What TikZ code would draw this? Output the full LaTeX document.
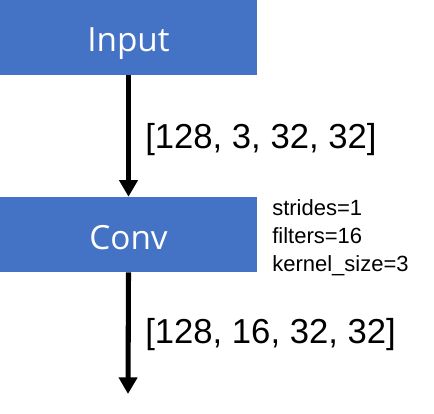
\documentclass[tikz,border=0pt]{standalone}
\usepackage{fontspec}
\setmainfont{Liberation Sans}
\newfontfamily\boxfont{Open Sans}
\usetikzlibrary{arrows.meta}
\definecolor{boxblue}{HTML}{4472C4}
\tikzset{
  layerbox/.style={fill=boxblue, draw=none, minimum width=257*0.75pt, minimum height=75*0.75pt, inner sep=0pt},
  boxtext/.style={text=white, inner sep=0pt, anchor=base, font=\boxfont\fontsize{25}{30}\selectfont},
  flow/.style={line width=3.8pt, -{Triangle[width=13.5pt,length=12.5pt]}},
  shapelabel/.style={anchor=west, inner sep=0pt, font=\fontsize{26}{30}\selectfont},
  paramlabel/.style={anchor=base west, inner sep=0pt, align=left, font=\fontsize{16.5}{21}\selectfont}
}
\begin{document}
\begin{tikzpicture}[x=0.75pt,y=-0.75pt]
\useasboundingbox (0,0) rectangle (434,413);
\node[layerbox] (input) at (128.5,37.5) {};
\node[layerbox] (conv) at (128.5,234.5) {};
\node[boxtext] (inputtext) at (128.5,52) {Input};
\node[boxtext] (convtext) at (128.5,249) {Conv};
\coordinate (out) at (128,394);
\draw[flow] (input.south) -- (conv.north);
\draw[flow] (conv.south) -- (out);
\node[shapelabel] (l1) at (145,140) {[128, 3, 32, 32]};
\node[shapelabel] (l2) at (145,335) {[128, 16, 32, 32]};
\node[paramlabel] (p) at (272,271) {strides=1\\filters=16\\kernel\_size=3};
\end{tikzpicture}
\end{document}
